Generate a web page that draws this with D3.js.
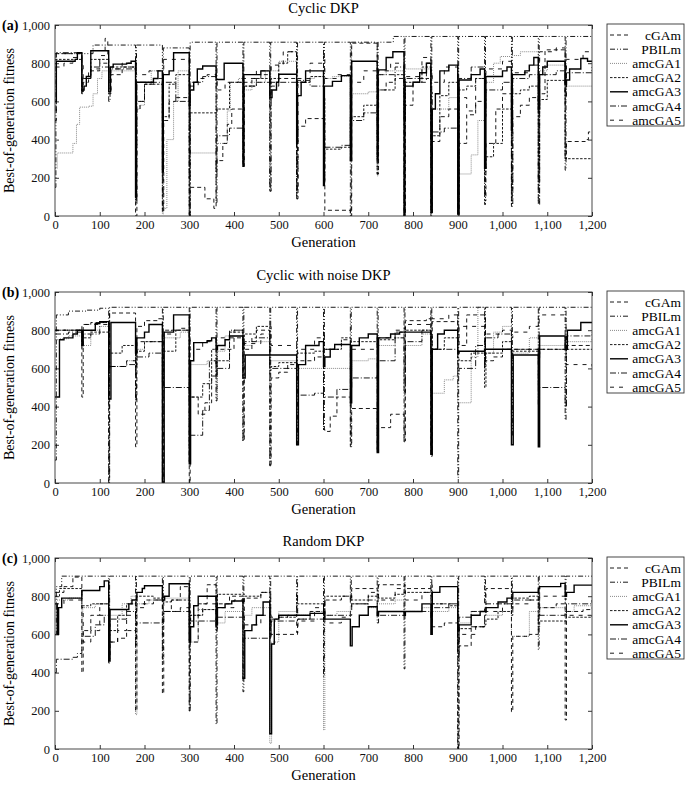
<!DOCTYPE html>
<html><head><meta charset="utf-8">
<script src="https://cdn.jsdelivr.net/npm/d3@7"></script>
<style>body{margin:0;background:#fff}svg{display:block}</style>
</head><body>
<script>
const seriesNames = ["cGAm","PBILm","amcGA1","amcGA2","amcGA3","amcGA4","amcGA5"];
const panelTitles = ["Cyclic DKP","Cyclic with noise DKP","Random DKP"];
const panelLetters = ["(a)","(b)","(c)"];
const xTicks = [0,100,200,300,400,500,600,700,800,900,1000,1100,1200];
const yTicks = [0,200,400,600,800,1000];

// ---- Panel (a) Cyclic DKP ----
const cGAm_a = [[0,850],[60,640],[63,700],[75,760],[100,800],[120,640],[125,740],[150,780],[180,0],[183,560],[190,600],[200,690],[220,720],[240,20],[243,500],[255,600],[270,620],[300,0],[302,150],[335,90],[355,40],[360,290],[375,380],[385,480],[395,560],[420,260],[423,700],[440,720],[460,740],[480,600],[483,680],[500,720],[540,90],[543,470],[560,510],[600,510],[603,30],[660,0],[663,905],[720,220],[723,660],[740,700],[760,720],[780,0],[783,580],[800,700],[830,720],[840,20],[843,390],[860,520],[880,560],[900,0],[903,380],[920,530],[940,600],[960,80],[963,380],[985,560],[1000,640],[1020,140],[1023,520],[1040,580],[1060,620],[1080,600],[1083,640],[1095,870],[1140,300],[1143,390],[1185,400],[1192,440],[1200,440]];
const PBILm_a = [[0,150],[2,850],[85,895],[180,85],[182,895],[240,30],[242,880],[300,0],[302,910],[360,70],[362,910],[420,270],[422,910],[480,130],[482,910],[540,90],[542,910],[600,170],[602,910],[660,0],[662,910],[720,220],[722,910],[756,940],[780,0],[782,940],[840,0],[842,940],[900,20],[902,940],[960,60],[962,940],[1020,50],[1022,940],[1080,70],[1082,940],[1140,240],[1142,940],[1200,940]];
const amcGA1_a = [[0,250],[5,330],[40,380],[48,480],[55,570],[75,575],[85,640],[95,720],[105,760],[180,60],[182,560],[190,580],[200,690],[215,760],[240,10],[242,40],[250,400],[265,600],[275,760],[300,600],[302,330],[360,380],[385,550],[392,700],[410,720],[420,650],[422,660],[440,700],[470,760],[500,810],[540,190],[542,700],[560,720],[580,730],[600,720],[620,730],[660,600],[663,640],[700,650],[720,210],[722,740],[740,760],[780,770],[840,300],[843,560],[880,620],[900,30],[903,220],[930,320],[945,500],[960,700],[980,800],[995,835],[1020,840],[1040,860],[1080,150],[1082,760],[1100,790],[1140,680],[1142,680],[1200,680]];
const amcGA2_a = [[0,820],[60,650],[62,720],[80,820],[120,700],[123,780],[180,120],[182,600],[200,690],[240,510],[242,520],[255,690],[270,740],[300,0],[302,540],[360,550],[362,560],[390,700],[420,620],[422,680],[450,720],[480,700],[483,720],[500,800],[520,860],[540,700],[542,700],[570,730],[600,620],[603,350],[640,360],[660,500],[663,520],[690,580],[720,500],[723,660],[760,740],[780,500],[783,700],[820,780],[840,400],[843,420],[860,630],[880,700],[900,100],[903,660],[920,680],[940,720],[960,230],[963,310],[980,380],[1000,560],[1020,640],[1040,660],[1060,680],[1080,180],[1083,610],[1100,710],[1140,300],[1143,300],[1200,300]];
const amcGA3_a = [[0,600],[3,810],[45,820],[50,855],[60,660],[65,680],[70,730],[80,865],[120,650],[124,780],[130,795],[160,800],[170,810],[180,100],[182,700],[220,720],[230,760],[240,230],[242,740],[255,760],[265,855],[300,580],[302,660],[310,700],[318,770],[330,785],[360,715],[378,800],[420,260],[422,740],[460,760],[480,620],[485,660],[495,700],[500,742],[540,380],[542,630],[550,700],[560,760],[600,160],[602,680],[620,705],[640,735],[660,290],[663,810],[720,300],[722,765],[740,830],[755,860],[780,0],[782,680],[800,700],[815,750],[830,800],[840,20],[843,560],[850,640],[860,760],[880,790],[900,10],[903,712],[930,740],[950,770],[960,250],[963,730],[1000,760],[1010,780],[1020,450],[1022,740],[1050,760],[1060,790],[1070,830],[1080,560],[1083,740],[1090,780],[1100,810],[1140,690],[1143,712],[1150,770],[1175,825],[1190,810],[1200,810]];
const amcGA4_a = [[0,550],[3,855],[60,640],[62,720],[80,780],[120,600],[123,770],[180,80],[183,700],[240,480],[242,700],[270,600],[300,200],[302,700],[330,730],[360,230],[362,420],[390,460],[420,400],[422,680],[450,700],[480,130],[483,700],[540,600],[542,710],[570,680],[600,180],[603,360],[640,370],[660,520],[663,500],[690,540],[720,400],[723,740],[760,780],[780,500],[783,720],[830,800],[840,650],[843,440],[870,460],[900,650],[903,720],[930,780],[960,520],[963,660],[1000,700],[1020,60],[1023,720],[1060,740],[1080,60],[1083,740],[1120,760],[1140,650],[1143,750],[1200,780]];
const amcGA5_a = [[0,500],[3,780],[20,800],[40,830],[60,800],[63,720],[80,770],[100,840],[112,930],[118,840],[120,650],[125,770],[150,800],[180,850],[182,740],[210,760],[240,760],[243,820],[300,700],[302,680],[320,720],[340,740],[360,720],[362,660],[380,700],[420,720],[450,760],[480,740],[483,790],[510,860],[540,130],[543,720],[570,800],[600,840],[603,720],[630,740],[660,720],[663,700],[690,760],[720,650],[723,760],[750,800],[780,700],[783,730],[820,830],[840,750],[843,700],[870,780],[900,300],[903,620],[920,550],[940,720],[960,600],[963,770],[1000,810],[1020,760],[1023,750],[1060,790],[1080,800],[1083,860],[1120,880],[1140,600],[1143,820],[1180,860],[1200,860]];

// ---- Panel (b) Cyclic with noise DKP ----
const cGAm_b = [[0,800],[60,450],[63,830],[80,840],[120,10],[122,890],[180,190],[183,820],[200,850],[230,860],[240,0],[243,780],[260,800],[300,0],[302,450],[320,360],[335,420],[350,560],[360,570],[362,700],[400,760],[420,220],[423,700],[440,760],[450,800],[480,90],[483,550],[500,580],[520,620],[540,640],[580,660],[600,280],[603,270],[615,350],[630,450],[660,190],[663,390],[720,160],[723,290],[750,360],[780,220],[783,850],[830,860],[840,140],[843,845],[900,780],[903,720],[920,880],[960,860],[962,640],[980,660],[1000,700],[1020,700],[1080,660],[1083,700],[1140,700],[1143,720],[1200,720]];
const PBILm_b = [[0,120],[3,880],[30,900],[70,905],[100,915],[120,0],[122,920],[240,0],[242,920],[300,110],[302,920],[360,430],[362,920],[420,220],[422,920],[480,90],[482,920],[540,200],[542,920],[600,280],[602,920],[660,200],[662,920],[720,165],[722,920],[780,215],[782,920],[840,150],[842,920],[900,30],[902,920],[960,600],[962,920],[1020,250],[1022,920],[1080,400],[1082,920],[1140,330],[1142,920],[1200,920]];
const amcGA1_b = [[0,750],[10,755],[30,770],[60,700],[62,720],[80,800],[100,820],[120,600],[125,610],[160,640],[180,650],[183,700],[200,740],[240,500],[243,760],[280,790],[300,450],[303,620],[340,640],[360,440],[363,690],[380,770],[420,690],[423,720],[440,740],[480,640],[540,620],[543,600],[660,580],[663,640],[700,650],[720,600],[722,720],[760,760],[780,700],[783,720],[820,780],[840,470],[870,540],[890,560],[900,420],[930,660],[945,920],[960,840],[962,680],[980,790],[1000,820],[1020,650],[1023,680],[1060,760],[1080,660],[1083,720],[1140,740],[1200,760]];
const amcGA2_b = [[0,800],[60,720],[62,760],[80,790],[120,600],[122,680],[150,720],[180,600],[183,690],[200,740],[240,510],[242,690],[270,800],[300,410],[302,450],[330,520],[350,700],[360,560],[362,640],[390,790],[420,700],[423,780],[450,820],[480,590],[483,610],[500,630],[540,680],[580,690],[600,700],[640,760],[660,740],[720,720],[723,750],[760,790],[783,800],[840,780],[843,700],[870,760],[900,650],[903,640],[930,680],[960,500],[963,680],[1000,740],[1020,650],[1023,690],[1080,650],[1083,700],[1200,700]];
const amcGA3_b = [[0,450],[10,750],[20,760],[40,780],[50,800],[60,720],[63,800],[90,835],[100,845],[120,440],[125,840],[180,680],[183,760],[200,790],[210,830],[240,0],[244,790],[265,880],[300,100],[303,640],[310,735],[340,745],[350,760],[360,700],[363,720],[380,750],[390,770],[420,550],[425,670],[540,200],[544,620],[560,720],[590,740],[600,610],[603,660],[615,700],[625,725],[660,420],[663,720],[680,760],[700,780],[720,160],[723,760],[750,780],[770,790],[840,150],[843,700],[855,780],[870,800],[900,680],[903,690],[960,700],[1020,200],[1024,670],[1080,190],[1083,770],[1140,700],[1145,800],[1175,840],[1200,840]];
const amcGA4_b = [[0,780],[30,790],[60,760],[62,780],[100,840],[120,620],[122,610],[160,620],[180,430],[182,660],[210,680],[240,500],[300,180],[302,250],[330,380],[345,640],[360,600],[390,800],[420,730],[423,740],[450,760],[480,600],[540,460],[580,470],[600,450],[630,490],[660,500],[663,550],[720,600],[723,640],[760,760],[780,480],[783,740],[820,800],[840,680],[843,700],[900,560],[903,600],[940,720],[960,620],[962,760],[990,780],[1020,680],[1023,700],[1080,500],[1140,400],[1143,770],[1200,790]];
const amcGA5_b = [[0,800],[60,820],[62,830],[120,840],[122,610],[160,640],[180,660],[182,740],[240,780],[242,800],[280,810],[300,760],[302,700],[330,740],[360,760],[400,800],[420,700],[423,730],[460,780],[480,820],[483,720],[540,700],[580,760],[600,800],[602,700],[640,750],[660,720],[663,700],[720,760],[760,800],[780,810],[783,830],[840,880],[843,860],[880,880],[900,780],[903,820],[960,720],[962,780],[1000,800],[1020,760],[1023,790],[1060,820],[1080,880],[1140,880],[1142,620],[1200,610]];

// ---- Panel (c) Random DKP ----
const cGAm_c = [[0,820],[20,850],[40,900],[60,400],[63,620],[80,700],[100,760],[120,470],[123,560],[140,580],[160,620],[180,200],[183,740],[200,780],[240,290],[243,720],[260,780],[280,850],[300,200],[302,560],[320,760],[340,860],[360,640],[362,760],[390,800],[420,760],[422,790],[460,820],[480,820],[482,600],[540,600],[542,680],[570,720],[600,750],[603,780],[640,800],[660,780],[663,840],[720,830],[723,860],[780,860],[782,840],[840,860],[843,640],[870,660],[900,0],[903,540],[930,640],[960,700],[963,840],[1020,195],[1023,590],[1060,600],[1080,700],[1083,740],[1120,760],[1140,152],[1143,720],[1180,730],[1200,740]];
const PBILm_c = [[0,600],[3,850],[15,905],[120,450],[122,905],[180,540],[182,905],[240,470],[242,905],[300,200],[302,905],[360,130],[362,905],[420,300],[422,905],[480,580],[482,905],[540,700],[542,905],[600,380],[602,905],[660,760],[662,905],[720,760],[722,905],[780,420],[782,905],[840,760],[842,905],[900,0],[902,905],[960,760],[962,905],[1020,760],[1022,905],[1080,520],[1082,905],[1140,780],[1142,905],[1200,905]];
const amcGA1_c = [[0,780],[30,790],[60,600],[62,740],[90,760],[120,800],[122,700],[150,760],[170,800],[180,180],[183,760],[210,780],[240,790],[300,790],[302,560],[320,730],[360,620],[363,660],[380,720],[420,680],[423,700],[440,740],[480,30],[484,560],[500,720],[540,740],[543,700],[570,720],[600,100],[603,700],[630,720],[660,750],[663,760],[700,740],[720,760],[760,780],[780,700],[783,720],[820,740],[840,700],[843,720],[880,740],[900,560],[903,660],[930,720],[960,740],[963,700],[1000,720],[1020,590],[1060,720],[1080,700],[1083,740],[1140,720],[1160,750],[1200,750]];
const amcGA2_c = [[0,800],[10,840],[60,750],[80,760],[120,620],[140,700],[160,760],[183,800],[220,790],[240,800],[243,770],[260,780],[300,630],[303,700],[330,730],[360,620],[363,810],[420,810],[423,800],[460,820],[480,620],[483,680],[500,690],[540,810],[542,760],[600,690],[603,800],[660,800],[663,780],[700,800],[720,810],[723,790],[760,810],[780,820],[840,830],[843,760],[880,750],[900,560],[903,630],[930,640],[960,650],[963,680],[990,720],[1020,700],[1023,790],[1060,800],[1080,640],[1083,670],[1140,670],[1142,690],[1200,700]];
const amcGA3_c = [[0,760],[5,600],[8,740],[15,790],[60,830],[100,850],[110,880],[120,460],[123,730],[165,760],[172,780],[183,820],[195,840],[200,855],[240,780],[245,800],[255,865],[300,560],[303,640],[310,750],[320,800],[360,650],[363,740],[380,760],[395,775],[420,370],[424,620],[440,650],[450,700],[465,770],[480,80],[484,550],[490,680],[500,700],[570,710],[600,720],[603,680],[660,540],[664,640],[680,700],[700,745],[720,700],[723,720],[780,700],[783,720],[820,760],[840,600],[843,820],[860,850],[900,620],[903,650],[930,700],[950,720],[963,740],[990,770],[1010,790],[1023,820],[1080,840],[1083,850],[1130,867],[1140,800],[1143,820],[1160,858],[1200,858]];
const amcGA4_c = [[0,400],[3,470],[40,480],[50,500],[60,590],[90,650],[110,700],[120,640],[123,680],[160,720],[180,650],[183,660],[243,720],[300,720],[303,670],[363,690],[420,690],[423,580],[483,670],[543,680],[600,700],[660,720],[663,760],[700,780],[720,660],[723,700],[783,720],[840,680],[843,740],[880,760],[900,500],[903,690],[930,720],[960,740],[963,760],[1023,780],[1080,820],[1083,700],[1140,720],[1143,760],[1200,780]];
const amcGA5_c = [[0,760],[20,780],[60,740],[63,560],[80,620],[100,700],[120,600],[123,560],[140,620],[160,700],[180,720],[183,760],[220,780],[243,720],[280,740],[300,700],[330,760],[360,820],[363,740],[400,780],[420,800],[423,650],[460,700],[483,690],[520,700],[540,610],[543,670],[580,740],[600,780],[603,660],[640,690],[660,700],[663,760],[700,820],[723,780],[760,840],[780,860],[783,780],[820,820],[840,780],[843,760],[900,480],[903,600],[940,640],[960,700],[963,720],[1000,760],[1020,720],[1023,760],[1060,780],[1083,800],[1140,760],[1143,700],[1200,720]];

const panelData = [
  [cGAm_a, PBILm_a, amcGA1_a, amcGA2_a, amcGA3_a, amcGA4_a, amcGA5_a],
  [cGAm_b, PBILm_b, amcGA1_b, amcGA2_b, amcGA3_b, amcGA4_b, amcGA5_b],
  [cGAm_c, PBILm_c, amcGA1_c, amcGA2_c, amcGA3_c, amcGA4_c, amcGA5_c]
];

const styles = {
  cGAm:   {stroke:"#000", width:0.9, dash:"4,3"},
  PBILm:  {stroke:"#000", width:0.9, dash:"5,2,1,2,1,2"},
  amcGA1: {stroke:"#8a8a8a", width:1.0, dash:"1,1"},
  amcGA2: {stroke:"#000", width:0.9, dash:"2.5,1.5"},
  amcGA3: {stroke:"#000", width:1.4, dash:null},
  amcGA4: {stroke:"#000", width:0.9, dash:"6,2,1,2"},
  amcGA5: {stroke:"#000", width:0.9, dash:"4,5"}
};
const drawOrder = ["amcGA1","amcGA5","amcGA2","amcGA4","cGAm","amcGA3","PBILm"];

const W = 685, H = 785;
const plotL = 55, plotR = 592, plotH = 191;
const plotTops = [25, 292, 558];
const FONT = "'Liberation Serif','DejaVu Serif',serif";

const svg = d3.select("body").append("svg").attr("width", W).attr("height", H)
  .style("font-family", FONT);

const x = d3.scaleLinear().domain([0,1200]).range([plotL, plotR]);
const fmt = d3.format(",");

panelData.forEach((pd, pi) => {
  const top = plotTops[pi];
  const y = d3.scaleLinear().domain([0,1000]).range([top + plotH, top]);
  const g = svg.append("g");
  const clipId = "clip" + pi;
  svg.append("defs").append("clipPath").attr("id", clipId)
    .append("rect").attr("x", plotL).attr("y", top).attr("width", plotR-plotL).attr("height", plotH);

  const line = d3.line().x(d => x(d[0])).y(d => y(d[1])).curve(d3.curveStepAfter);
  const lg = g.append("g").attr("clip-path", `url(#${clipId})`);
  drawOrder.forEach(name => {
    const idx = seriesNames.indexOf(name);
    let pts = pd[idx].slice();
    const last = pts[pts.length-1];
    if (last[0] < 1200) pts.push([1200, last[1]]);
    const s = styles[name];
    lg.append("path").attr("d", line(pts)).attr("fill","none")
      .attr("stroke", s.stroke).attr("stroke-width", s.width)
      .attr("stroke-dasharray", s.dash).attr("stroke-linejoin","miter");
  });

  const axB = d3.axisBottom(x).tickValues(xTicks).tickFormat(fmt).tickSizeInner(-4).tickSizeOuter(0).tickPadding(4);
  const axT = d3.axisTop(x).tickValues(xTicks).tickFormat("").tickSizeInner(-4).tickSizeOuter(0);
  const axL = d3.axisLeft(y).tickValues(yTicks).tickFormat(fmt).tickSizeInner(-4).tickSizeOuter(0).tickPadding(5);
  const axR = d3.axisRight(y).tickValues(yTicks).tickFormat("").tickSizeInner(-4).tickSizeOuter(0);
  const styleAxis = sel => {
    sel.select(".domain").remove();
    sel.selectAll("line").attr("stroke","#000").attr("stroke-width",0.8);
    sel.selectAll("text").attr("font-family", FONT).attr("font-size", 12.5).attr("fill","#111");
  };
  g.append("g").attr("transform", `translate(0,${top+plotH})`).call(axB).call(styleAxis);
  g.append("g").attr("transform", `translate(0,${top})`).call(axT).call(styleAxis);
  g.append("g").attr("transform", `translate(${plotL},0)`).call(axL).call(styleAxis);
  g.append("g").attr("transform", `translate(${plotR},0)`).call(axR).call(styleAxis);

  g.append("rect").attr("x", plotL).attr("y", top).attr("width", plotR-plotL).attr("height", plotH)
    .attr("fill","none").attr("stroke","#333").attr("stroke-width",0.9);

  g.append("text").attr("x", (plotL+plotR)/2).attr("y", top - 12).attr("text-anchor","middle")
    .attr("font-size", 14.5).text(panelTitles[pi]);
  g.append("text").attr("x", 2).attr("y", top + 5).attr("font-size", 14).attr("font-weight","bold")
    .text(panelLetters[pi]);
  g.append("text").attr("transform", `translate(14,${top+plotH/2}) rotate(-90)`).attr("text-anchor","middle")
    .attr("font-size", 14).text("Best-of-generation fitness");
  g.append("text").attr("x", (plotL+plotR)/2).attr("y", top + plotH + 31).attr("text-anchor","middle")
    .attr("font-size", 14.5).text("Generation");

  const lgX = 607, lgY = top - 1, lgW = 77, lgH = 102;
  const leg = g.append("g");
  leg.append("rect").attr("x", lgX).attr("y", lgY).attr("width", lgW).attr("height", lgH)
    .attr("fill","#fff").attr("stroke","#333").attr("stroke-width",0.9);
  seriesNames.forEach((name, i) => {
    const yy = lgY + 11 + i*14.2;
    const s = styles[name];
    leg.append("line").attr("x1", lgX+3).attr("x2", lgX+21).attr("y1", yy).attr("y2", yy)
      .attr("stroke", s.stroke).attr("stroke-width", s.width).attr("stroke-dasharray", s.dash);
    leg.append("text").attr("x", lgX+lgW-3).attr("y", yy+4.5).attr("text-anchor","end")
      .attr("font-size", 13.5).text(name);
  });
});
</script>
</body></html>
